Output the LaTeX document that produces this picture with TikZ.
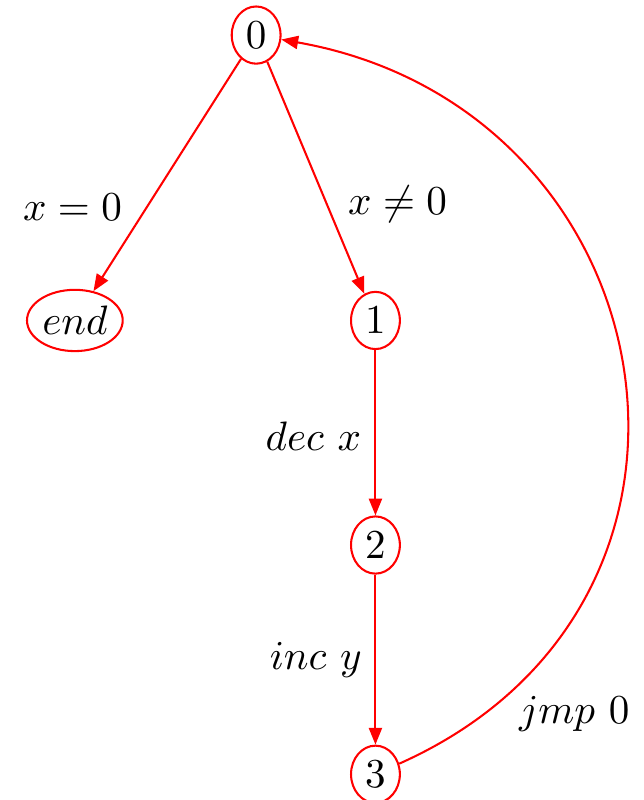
\documentclass[tikz,border=0pt]{standalone}
\usepackage{amsmath,amssymb}
\usepackage{tikz}
\usetikzlibrary{arrows.meta,positioning,shapes.geometric}
\definecolor{Edge}{HTML}{FF0000}
\tikzset{
  >={Triangle[length=4.1pt,width=3.2pt]},
  st/.style={ellipse,draw=Edge,line width=.5pt,fill=white,inner sep=1.7pt},
  final/.style={st,inner xsep=.3pt,inner ysep=1.8pt},
  trans/.style={->,line width=.5pt,draw=Edge,fill=Edge},
  lab/.style={inner sep=1pt}
}
\begin{document}
\begin{tikzpicture}[x=1cm,y=1cm]
    \useasboundingbox (0,0) rectangle (5.50,6.84);
    \node[st] (s0) at (2.19,6.54) {$0$};
    \node[final] (send) at (0.64,4.10) {$end$};
    \node[st] (s1) at (3.21,4.10) {$1$};
    \node[st] (s2) at (3.21,2.18) {$2$};
    \node[st] (s3) at (3.21,0.22) {$3$};
    \draw[trans] (s0)--(send);
    \draw[trans] (s0)--(s1);
    \draw[trans] (s1)--(s2);
    \draw[trans] (s2)--(s3);
    \draw[trans,fill=none] (s3) to[out=24,in=-10,distance=3.38cm] (s0);
    \node[lab] (l0) at (0.62,5.07) {$x = 0$};
    \node[lab] (l1) at (3.40,5.09) {$x \neq 0$};
    \node[lab] (l2) at (2.68,3.11) {$dec\ x$};
    \node[lab] (l3) at (2.70,1.20) {$inc\ y$};
    \node[lab] (l4) at (4.91,0.74) {$jmp\ 0$};
  \end{tikzpicture}
\end{document}
